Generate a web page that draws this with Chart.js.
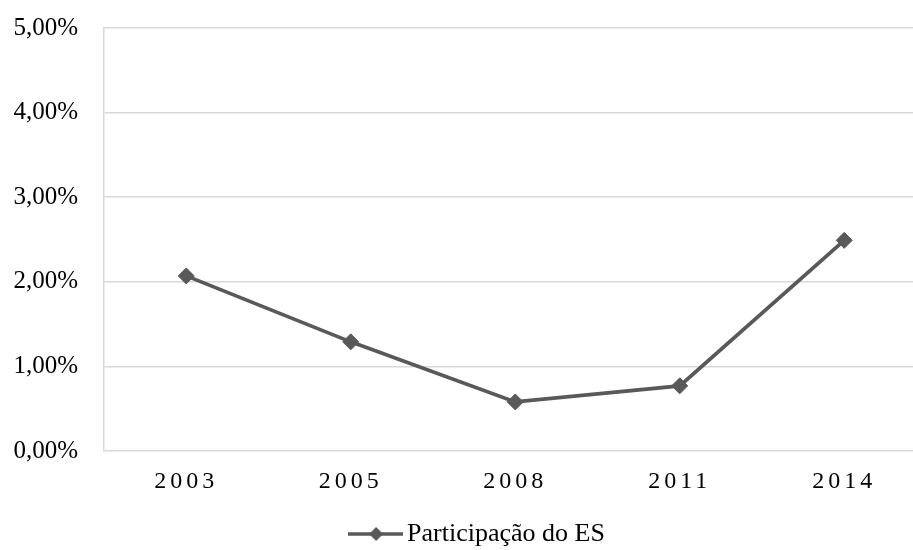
<!DOCTYPE html>
<html>
<head>
<meta charset="utf-8">
<script src="https://cdn.jsdelivr.net/npm/chart.js@4.4.1/dist/chart.umd.min.js"></script>
<style>
  html, body { margin: 0; padding: 0; background: #fff; overflow: hidden; }
  /* the original chart is a bit wider than the picture and is cut on the right */
  #wrap { width: 950px; height: 550px; }
</style>
</head>
<body>
<div id="wrap"><canvas id="chart"></canvas></div>
<script>
const categories = ['2003', '2005', '2008', '2011', '2014'];
const participacao = [2.07, 1.29, 0.58, 0.77, 2.49];
const yTicks = [0, 1, 2, 3, 4, 5];
const seriesName = 'Participação do ES';

const lineColor = '#595959';
const gridColor = '#d9d9d9';
const serif = "'Liberation Serif', 'Times New Roman', serif";

// legend sample: a short line with a diamond in the middle
const legendIcon = document.createElement('canvas');
legendIcon.width = 55;
legendIcon.height = 18;
(() => {
  const c = legendIcon.getContext('2d');
  c.strokeStyle = lineColor;
  c.lineWidth = 3.5;
  c.beginPath();
  c.moveTo(0, 9);
  c.lineTo(55, 9);
  c.stroke();
  c.fillStyle = lineColor;
  c.beginPath();
  c.moveTo(28, 2);
  c.lineTo(35, 9);
  c.lineTo(28, 16);
  c.lineTo(21, 9);
  c.closePath();
  c.fill();
})();

// the year labels are letter-spaced in the original
const spacedX = {
  id: 'spacedX',
  afterDatasetsDraw(chart) { chart.ctx.letterSpacing = '4px'; },
  afterDraw(chart) { chart.ctx.letterSpacing = '0px'; }
};

const ctx = document.getElementById('chart').getContext('2d');
new Chart(ctx, {
  type: 'line',
  data: {
    datasets: [{
      label: seriesName,
      data: participacao.map((v, i) => ({ x: i, y: v })),
      borderColor: lineColor,
      backgroundColor: lineColor,
      borderWidth: 3.75,
      pointStyle: 'rectRot',
      pointRadius: 8,
      pointHoverRadius: 8,
      pointBorderWidth: 1,
      pointBackgroundColor: lineColor,
      pointBorderColor: lineColor,
      tension: 0
    }]
  },
  options: {
    responsive: true,
    maintainAspectRatio: false,
    animation: false,
    layout: { autoPadding: false, padding: { left: 12, right: 0, top: 0, bottom: -7 } },
    scales: {
      x: {
        type: 'linear',
        min: -0.5,
        max: 4.643,
        afterBuildTicks: (scale) => {
          scale.ticks = categories.map((c, i) => ({ value: i }));
        },
        afterFit: (scale) => { scale.height = 64; },
        grid: { display: false, drawTicks: false },
        border: { display: false },
        ticks: {
          z: 1,
          autoSkip: false,
          maxRotation: 0,
          padding: 16,
          color: '#000',
          font: { family: serif, size: 24 },
          callback: (v) => categories[v] ?? ''
        }
      },
      y: {
        min: yTicks[0],
        max: yTicks[yTicks.length - 1],
        afterBuildTicks: (scale) => {
          scale.ticks = yTicks.map(v => ({ value: v }));
        },
        afterFit: (scale) => {
          scale.width = 92;
          scale.paddingTop = 28;
          scale.paddingBottom = 15;
        },
        grid: { color: gridColor, lineWidth: 1.5, drawTicks: false },
        border: { display: true, color: gridColor, width: 1.5 },
        ticks: {
          padding: 26,
          color: '#000',
          font: { family: serif, size: 25 },
          callback: (v) => v.toFixed(2).replace('.', ',') + '%'
        }
      }
    },
    plugins: {
      legend: {
        position: 'bottom',
        labels: {
          usePointStyle: true,
          pointStyleWidth: 37,
          padding: 6,
          color: '#000',
          font: { family: serif, size: 26 },
          generateLabels: (chart) => chart.data.datasets.map((ds, i) => ({
            text: ds.label,
            pointStyle: legendIcon,
            fillStyle: lineColor,
            strokeStyle: lineColor,
            lineWidth: 0,
            datasetIndex: i,
            hidden: false
          }))
        }
      },
      tooltip: { enabled: false }
    }
  },
  plugins: [spacedX]
});
</script>
</body>
</html>
